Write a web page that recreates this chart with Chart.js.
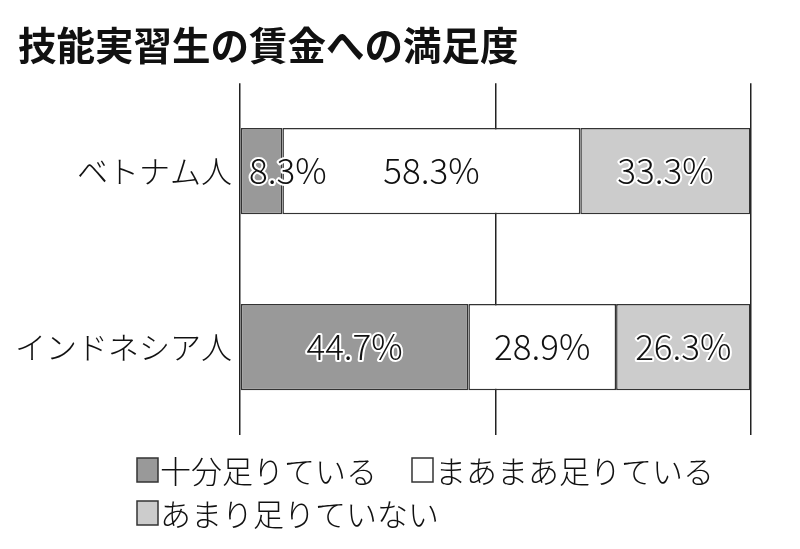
<!DOCTYPE html>
<html>
<head>
<meta charset="utf-8">
<script src="https://cdn.jsdelivr.net/npm/chart.js@4"></script>
<style>
  html, body { margin: 0; padding: 0; background: #fff; }
  #wrap { width: 800px; height: 549px; }
</style>
</head>
<body>
<div id="wrap"><canvas id="myChart"></canvas></div>
<script>
'use strict';

// chart data

var chartTitle = '技能実習生の賃金への満足度';
var categories = ['ベトナム人', 'インドネシア人'];
var seriesNames = ['十分足りている', 'まあまあ足りている', 'あまり足りていない'];
var enough = [8.3, 44.7];
var fairlyEnough = [58.3, 28.9];
var notEnough = [33.3, 26.3];
var seriesColors = ['#999999', '#ffffff', '#cccccc'];
var xTicks = [0, 50, 100];

var fontFamily = '"Noto Sans CJK JP", "Noto Sans", sans-serif';

// value labels in the middle of each segment, with a white halo

var valueLabels = {
  id: 'valueLabels',
  afterDatasetsDraw: function(chart) {
    var ctx = chart.ctx;
    ctx.save();
    ctx.font = '300 35px ' + fontFamily;
    ctx.textAlign = 'center';
    ctx.textBaseline = 'middle';
    ctx.lineJoin = 'round';
    chart.data.datasets.forEach(function(ds, i) {
      var meta = chart.getDatasetMeta(i);
      meta.data.forEach(function(bar, j) {
        var text = ds.data[j].toFixed(1) + '%';
        var w = ctx.measureText(text).width;
        var cx = (bar.x + bar.base) / 2;
        var minX = chart.chartArea.left + 9 + w / 2;
        if (cx < minX) {
          cx = minX;
        }
        ctx.strokeStyle = '#ffffff';
        ctx.lineWidth = 4;
        ctx.strokeText(text, cx, bar.y);
        ctx.fillStyle = '#111111';
        ctx.fillText(text, cx, bar.y);
      });
    });
    ctx.restore();
  }
};

// legend drawn under the plot, left aligned in two rows

var boxLegend = {
  id: 'boxLegend',
  afterDraw: function(chart) {
    var ctx = chart.ctx;
    var rows = [[0, 1], [2]];
    var rowY = [470, 513];
    ctx.save();
    ctx.font = '300 31px ' + fontFamily;
    ctx.textBaseline = 'middle';
    ctx.textAlign = 'left';
    rows.forEach(function(row, r) {
      var x = 137;
      row.forEach(function(idx) {
        var ds = chart.data.datasets[idx];
        ctx.fillStyle = ds.backgroundColor;
        ctx.fillRect(x, rowY[r] - 12, 21, 24);
        ctx.strokeStyle = '#333333';
        ctx.lineWidth = 1.5;
        ctx.strokeRect(x, rowY[r] - 12, 21, 24);
        ctx.fillStyle = '#111111';
        ctx.fillText(ds.label, x + 23, rowY[r] + 1);
        x += 23 + ctx.measureText(ds.label).width + 35;
      });
    });
    ctx.restore();
  }
};

function makeDataset(name, values, color) {
  return {
    label: name,
    data: values,
    backgroundColor: color,
    borderColor: '#333333',
    borderWidth: 1.5,
    borderSkipped: false,
    categoryPercentage: 1,
    barPercentage: 0.49
  };
}

function makeChart() {
  var ctx = document.getElementById('myChart').getContext('2d');
  return new Chart(ctx, {
    type: 'bar',
    data: {
      labels: categories,
      datasets: [
        makeDataset(seriesNames[0], enough, seriesColors[0]),
        makeDataset(seriesNames[1], fairlyEnough, seriesColors[1]),
        makeDataset(seriesNames[2], notEnough, seriesColors[2])
      ]
    },
    options: {
      indexAxis: 'y',
      responsive: true,
      maintainAspectRatio: false,
      animation: false,
      layout: {
        padding: { left: 18, right: 49, top: 0, bottom: 114 }
      },
      scales: {
        x: {
          stacked: true,
          min: 0,
          max: 100,
          afterBuildTicks: function(scale) {
            scale.ticks = xTicks.map(function(v) { return { value: v }; });
          },
          ticks: { display: false },
          border: { display: false },
          grid: {
            color: '#222222',
            lineWidth: 1.5,
            drawTicks: false
          }
        },
        y: {
          stacked: true,
          afterFit: function(scale) {
            scale.width = 222;
          },
          grid: { display: false, drawTicks: false },
          border: { display: false },
          ticks: {
            color: '#111111',
            padding: 8,
            font: { family: fontFamily, size: 31, weight: '300' }
          }
        }
      },
      plugins: {
        legend: { display: false },
        tooltip: { enabled: false },
        title: {
          display: true,
          text: chartTitle,
          align: 'start',
          color: '#111111',
          padding: { top: 22, bottom: 15 },
          font: { family: fontFamily, size: 38.5, weight: 'bold', lineHeight: 1.2 }
        }
      }
    },
    plugins: [valueLabels, boxLegend]
  });
}

makeChart();
</script>
</body>
</html>
